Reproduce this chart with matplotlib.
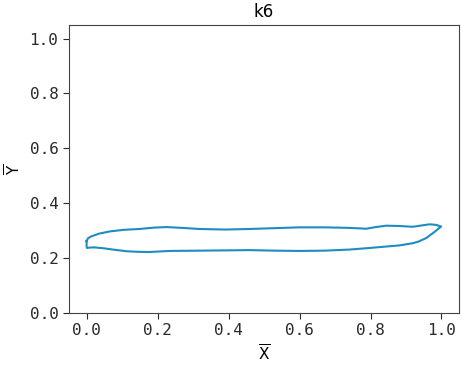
import matplotlib
matplotlib.use("Agg")
import matplotlib.pyplot as plt

# closed outline of the k6 shape (top edge left->right, bottom edge right->left)
x_top = [0.0, 0.004, 0.013, 0.035, 0.065, 0.105, 0.149, 0.190, 0.224, 0.270, 0.318, 0.390, 0.459, 0.530,
         0.6, 0.670, 0.741, 0.788, 0.815, 0.844, 0.880, 0.919, 0.945, 0.966, 0.985, 0.999]
y_top = [0.262, 0.272, 0.279, 0.289, 0.297, 0.303, 0.306, 0.311, 0.313, 0.310, 0.306, 0.304, 0.306, 0.309,
         0.312, 0.312, 0.310, 0.307, 0.313, 0.318, 0.317, 0.314, 0.319, 0.323, 0.321, 0.315]
x_bot = [0.999, 0.980, 0.957, 0.935, 0.919, 0.880, 0.844, 0.800, 0.741, 0.670, 0.6, 0.530, 0.459, 0.390,
         0.318, 0.234, 0.177, 0.140, 0.112, 0.080, 0.046, 0.020, 0.008, 0.001, 0.0, 0.0]
y_bot = [0.315, 0.295, 0.273, 0.260, 0.254, 0.246, 0.242, 0.237, 0.231, 0.227, 0.226, 0.227, 0.229, 0.228,
         0.227, 0.226, 0.222, 0.223, 0.225, 0.230, 0.236, 0.239, 0.238, 0.237, 0.242, 0.262]

xs = x_top + x_bot
ys = y_top + y_bot

plt.rcParams['font.family'] = ['DejaVu Sans Mono']
plt.rcParams['mathtext.fontset'] = 'dejavusans'

fig = plt.figure(figsize=(4.62, 3.66), dpi=100)
ax = fig.add_axes([0.149, 0.145, 0.845, 0.787])
ax.plot(xs, ys, color='#1f8cc1', linewidth=1.5)

ax.set_xlim(-0.05, 1.05)
ax.set_ylim(0, 1.05)
ax.set_xticks([0.0, 0.2, 0.4, 0.6, 0.8, 1.0])
ax.set_yticks([0.0, 0.2, 0.4, 0.6, 0.8, 1.0])
ax.tick_params(labelsize=11.5, colors='#2a2a2a', length=4)
for s in ax.spines.values():
    s.set_color('#444444')

ax.set_title('k6', fontsize=12, family='DejaVu Sans')
ax.set_xlabel(r'$\overline{\mathrm{X}}$', fontsize=11)
ax.set_ylabel(r'$\overline{\mathrm{Y}}$', fontsize=11)

fig.savefig('out.png', dpi=100)
